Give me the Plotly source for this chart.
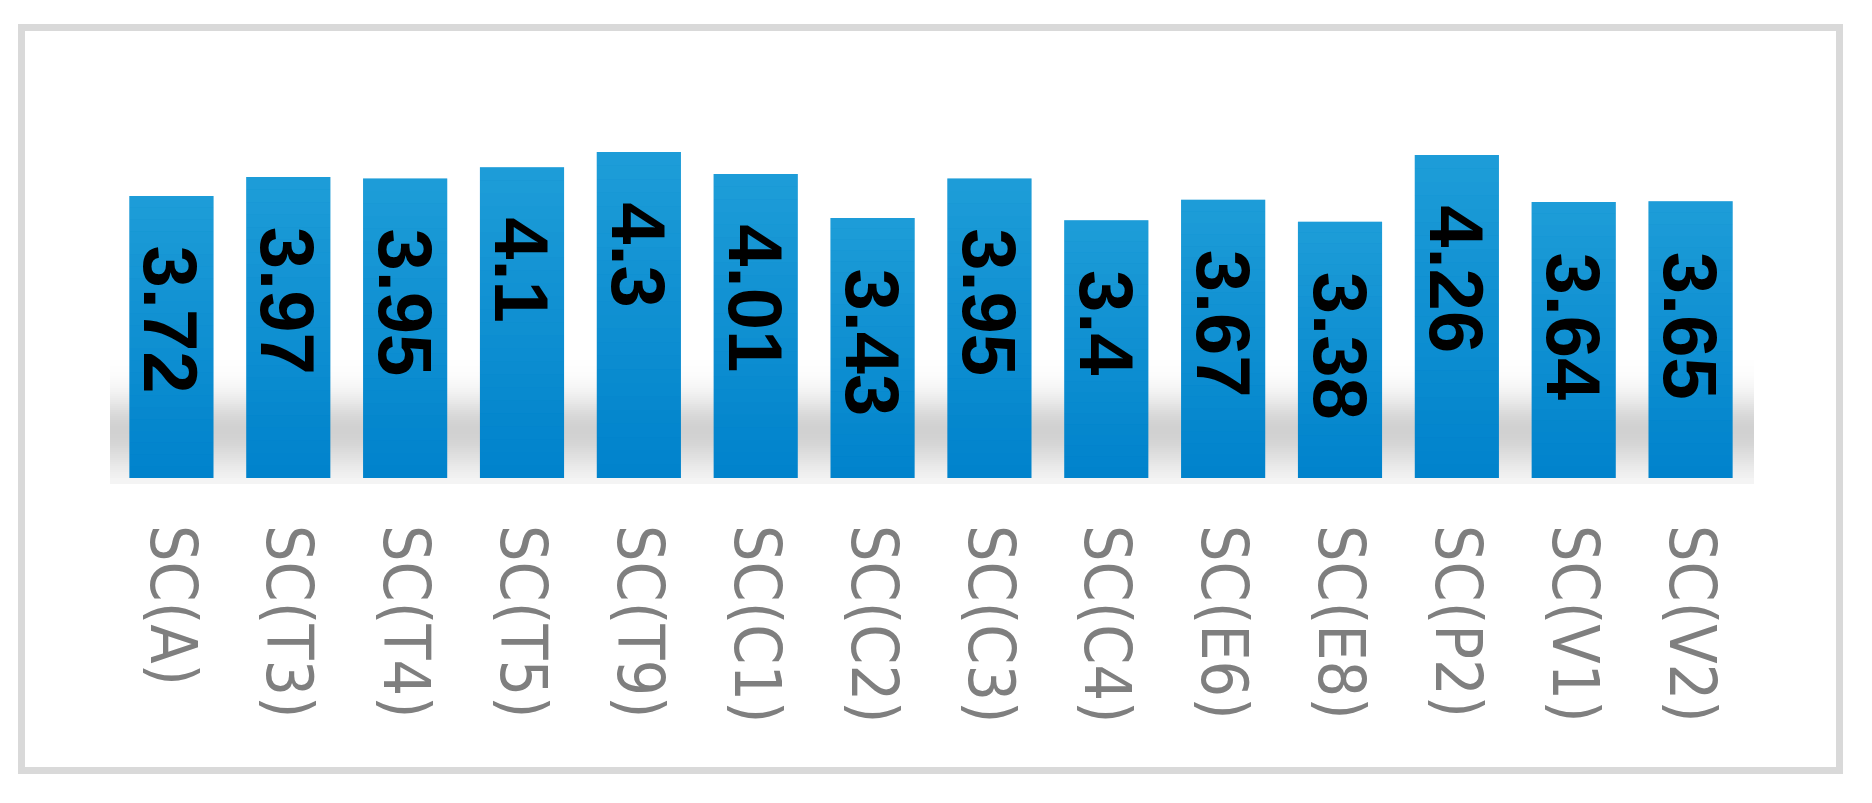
import math
import plotly.graph_objects as go

categories = ['SC(A)', 'SC(T3)', 'SC(T4)', 'SC(T5)', 'SC(T9)', 'SC(C1)', 'SC(C2)',
              'SC(C3)', 'SC(C4)', 'SC(E6)', 'SC(E8)', 'SC(P2)', 'SC(V1)', 'SC(V2)']
values = [3.72, 3.97, 3.95, 4.1, 4.3, 4.01, 3.43, 3.95, 3.4, 3.67, 3.38, 4.26, 3.64, 3.65]
value_labels = ['3.72', '3.97', '3.95', '4.1', '4.3', '4.01', '3.43', '3.95', '3.4', '3.67',
                '3.38', '4.26', '3.64', '3.65']

# the page body has an 8px margin, so the figure is a bit smaller than the window
OFF = 8
W, H = 1872 - 2 * OFF, 803 - 2 * OFF
ML, MR, MT, MB = 105, 115, 91, 317
PLOT_W = W - ML - MR
PLOT_H = H - MT - MB
BAR_W = 0.72


def px_x(p):
    # page pixel -> paper coordinate
    return (p - OFF - ML) / PLOT_W


def px_y(p):
    return (H - MB - (p - OFF)) / PLOT_H


fig = go.Figure()
fig.add_trace(go.Bar(x=categories, y=values, width=BAR_W, marker=dict(color='#0083cc', line=dict(width=0)),
                     hoverinfo='x+y'))

shapes = []

# soft grey shadow band behind the bars
step = 2.0
y = 360.0
while y < 483:
    yc = y + step / 2
    if yc < 478:
        s = 24.0 if yc < 430 else 30.0
        a = 0.18 * math.exp(-((yc - 430) / s) ** 2 / 2)
    else:
        a = 0.045
    shapes.append(dict(type='rect', xref='paper', yref='paper', layer='below',
                       x0=px_x(110), x1=px_x(1754), y0=px_y(y + step), y1=px_y(y),
                       fillcolor=f'rgba(0,0,0,{a:.3f})', line=dict(width=0)))
    y += step

# vertical gradient on each bar (lighter towards the top)
n_gr = 24
for i, v in enumerate(values):
    for k in range(n_gr):
        a = 0.3 * (k + 0.5) / n_gr
        shapes.append(dict(type='rect', xref='x', yref='y', layer='above',
                           x0=i - BAR_W / 2, x1=i + BAR_W / 2, y0=v * k / n_gr, y1=v * (k + 1) / n_gr,
                           fillcolor=f'rgba(100,218,244,{a:.3f})', line=dict(width=0)))

# light grey frame
shapes.append(dict(type='rect', xref='paper', yref='paper', x0=px_x(21.5), x1=px_x(1839.5),
                   y0=px_y(770.5), y1=px_y(27.5), line=dict(color='#d9d9d9', width=7)))

annotations = []
for c, v, t in zip(categories, values, value_labels):
    annotations.append(dict(x=c, y=v, text=t, showarrow=False, textangle=90, yanchor='top',
                            xanchor='center', yshift=-48,
                            font=dict(family='Liberation Sans, Arial', size=76, color='black', weight='bold')))

fig.update_layout(
    width=W, height=H,
    margin=dict(l=ML, r=MR, t=MT, b=MB),
    paper_bgcolor='white', plot_bgcolor='rgba(0,0,0,0)',
    showlegend=False,
    shapes=shapes,
    annotations=annotations,
    xaxis=dict(range=[-0.5, len(categories) - 0.5], showgrid=False, showline=False, zeroline=False,
               tickangle=90, ticks='', ticklabelstandoff=46,
               tickfont=dict(family='DejaVu Sans Condensed, Liberation Sans Narrow, Liberation Sans',
                             size=64, color='#7f7f7f')),
    yaxis=dict(range=[0, PLOT_H / 75.8], visible=False, fixedrange=True),
)

fig.write_html("out.html")
